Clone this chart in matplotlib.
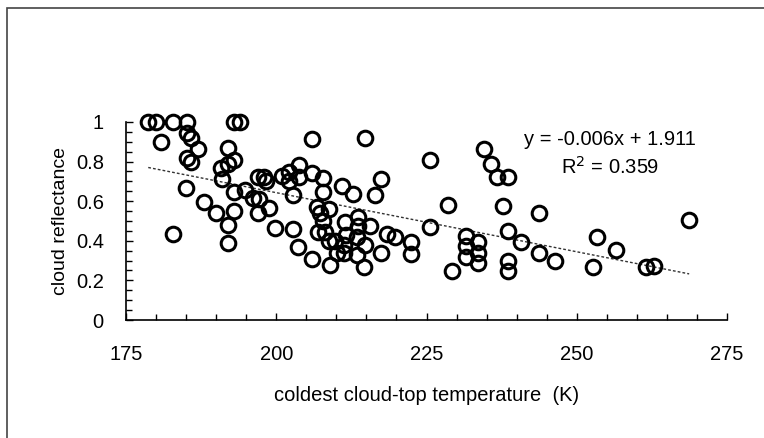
import matplotlib
matplotlib.use("Agg")
import matplotlib.pyplot as plt
import numpy as np
from matplotlib.ticker import MultipleLocator
from matplotlib.patches import Rectangle

plt.rcParams["font.family"] = ["Liberation Sans", "DejaVu Sans"]

# coldest cloud-top temperature (K) and cloud reflectance
temp_left = [178.7, 180.0, 182.8, 185.1, 180.9, 185.2, 185.9, 187.0, 185.1, 185.9,
             185.0, 182.8, 193.0, 194.0, 191.9, 193.0, 191.9, 190.8, 190.9, 187.9,
             190.0, 193.0, 191.9, 191.9, 193.0, 194.8, 196.1, 197.2, 197.0, 198.8,
             199.8, 197.0, 198.0, 198.3]
refl_left = [1.0, 1.0, 1.0, 1.0, 0.90, 0.946, 0.917, 0.864, 0.82, 0.80,
             0.668, 0.433, 1.0, 1.0, 0.867, 0.81, 0.786, 0.766, 0.71, 0.595,
             0.54, 0.55, 0.48, 0.39, 0.648, 0.657, 0.618, 0.61, 0.542, 0.564,
             0.466, 0.72, 0.72, 0.70]

temp_mid = [200.9, 202.2, 202.2, 203.8, 203.8, 205.9, 207.7, 202.8, 207.7, 206.7,
            208.8, 207.7, 207.0, 208.1, 208.8, 209.8, 209.0, 210.1, 202.8, 203.7,
            205.9, 205.9, 214.8, 210.9, 212.7, 216.5, 217.5, 211.5, 211.6, 211.2,
            213.6, 213.6, 215.6, 213.5, 214.8, 213.5, 214.6, 217.5, 218.5, 219.8,
            222.5, 222.5, 207.3, 211.2]
refl_mid = [0.727, 0.749, 0.70, 0.783, 0.724, 0.74, 0.716, 0.63, 0.648, 0.572,
            0.56, 0.50, 0.446, 0.446, 0.397, 0.397, 0.278, 0.337, 0.458, 0.37,
            0.31, 0.913, 0.92, 0.677, 0.636, 0.63, 0.71, 0.497, 0.43, 0.38,
            0.52, 0.475, 0.475, 0.42, 0.38, 0.33, 0.27, 0.337, 0.436, 0.42,
            0.395, 0.333, 0.54, 0.337]

temp_right = [225.5, 225.5, 228.6, 229.3, 231.6, 231.6, 231.6, 233.6, 233.6, 233.6,
              234.6, 235.7, 236.7, 238.6, 237.8, 238.6, 238.6, 238.6, 240.7, 243.8,
              243.8, 246.4, 253.3, 252.7, 256.6, 261.6, 262.9, 268.7]
refl_right = [0.81, 0.468, 0.58, 0.247, 0.426, 0.375, 0.317, 0.395, 0.337, 0.286,
              0.864, 0.79, 0.72, 0.72, 0.576, 0.45, 0.30, 0.249, 0.395, 0.542,
              0.337, 0.30, 0.42, 0.27, 0.354, 0.266, 0.274, 0.505]

temp = np.array(temp_left + temp_mid + temp_right)
refl = np.array(refl_left + refl_mid + refl_right)

fig = plt.figure(figsize=(7.64, 4.38), dpi=100)
ax = fig.add_axes([0.1649, 0.2694, 0.7867, 0.4521])

# frame round the chart (only left and top edges fall inside the picture)
fig.patches.append(Rectangle((0.009, -0.1), 1.2, 1.082, transform=fig.transFigure,
                             fill=False, edgecolor="#444444", linewidth=1.2))

ax.plot(temp, refl, "o", markersize=10.5, markerfacecolor="none",
        markeredgecolor="black", markeredgewidth=2.2, clip_on=False, zorder=3)

# linear trend
slope, icpt = np.polyfit(temp, refl, 1)
xs = np.array([temp.min(), temp.max()])
ax.plot(xs, slope * xs + icpt, linestyle=(0, (2, 1.5)), color="#333333", linewidth=1.0)

ax.text(0.805, 0.914, "y = -0.006x + 1.911", transform=ax.transAxes, ha="center",
        va="center", fontsize=14.5)
ax.text(0.805, 0.773, "R$^2$ = 0.359", transform=ax.transAxes, ha="center",
        va="center", fontsize=14.5)

ax.set_xlim(175, 275)
ax.set_ylim(0, 1)
ax.xaxis.set_major_locator(MultipleLocator(25))
ax.xaxis.set_minor_locator(MultipleLocator(5))
ax.yaxis.set_minor_locator(MultipleLocator(0.05))
ax.set_yticks([0, 0.2, 0.4, 0.6, 0.8, 1.0])
ax.set_yticklabels(["0", "0.2", "0.4", "0.6", "0.8", "1"])

ax.spines["top"].set_visible(False)
ax.spines["right"].set_visible(False)
for s in ("left", "bottom"):
    ax.spines[s].set_linewidth(1.2)
ax.tick_params(which="both", direction="in", width=1.0, labelsize=14.5)
ax.tick_params(which="major", length=5)
ax.tick_params(which="minor", length=4)
ax.tick_params(axis="x", which="both", pad=18)
ax.tick_params(axis="y", which="both", pad=16)

ax.set_xlabel("coldest cloud-top temperature  (K)", fontsize=14.5, labelpad=16)
ax.set_ylabel("cloud reflectance", fontsize=14, labelpad=5)

fig.savefig("out.png", dpi=100, facecolor="white")
